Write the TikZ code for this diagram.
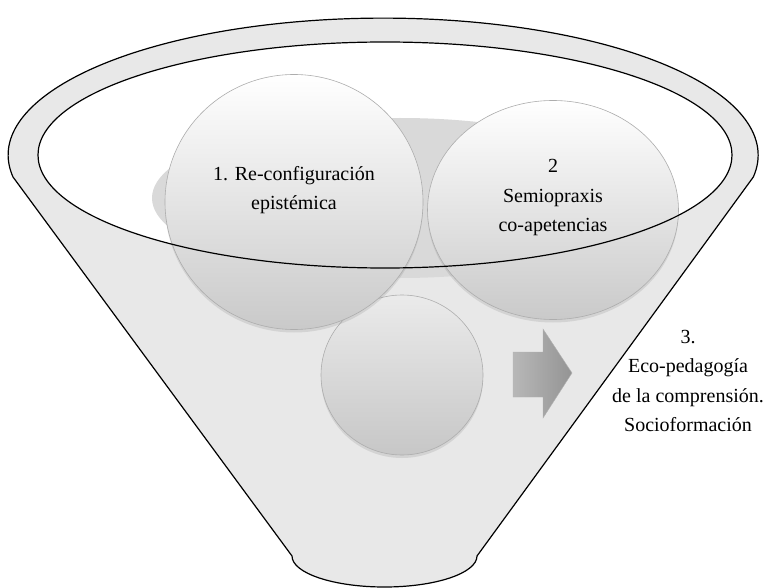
\documentclass[tikz,border=0pt]{standalone}
\usepackage{fontspec}
\setmainfont{Liberation Serif}
\usetikzlibrary{shapes,shadows,positioning}

\begin{document}
\begin{tikzpicture}
    [x=1pt,y=-1pt,
      embudo/.style={draw,line width=1.2pt,fill=black!9,line join=round},
      esfera/.style={ellipse,draw=black!32,line width=0.6pt,top color=white,bottom color=black!21,
        inner sep=0pt,drop shadow={opacity=0.2,shadow xshift=0pt,shadow yshift=-3pt}},
      texto/.style={align=center,font=\fontsize{20}{29.5}\selectfont,inner sep=0pt},
      flecha/.style={left color=black!28,right color=black!42,draw=black!30,line width=0.4pt}]
    \useasboundingbox (0,0) rectangle (770,588);
    \draw[embudo] (13,177) arc[start angle=170.8,end angle=369.2,x radius=375,y radius=137]
      -- (477,556) arc[start angle=0,end angle=180,x radius=92.5,y radius=31] -- cycle;
    \fill[white] (385,155) ellipse[x radius=347,y radius=113];
    \fill[black!15] (400,198) ellipse[x radius=248,y radius=80];
    \node[esfera,top color=black!8,bottom color=black!22,minimum width=162pt,minimum height=160pt] (s3) at (402,375) {};
    \node[esfera,minimum width=258pt,minimum height=255pt] (s1) at (294,202) {};
    \node[esfera,minimum width=251pt,minimum height=219pt] (s2) at (553,210) {};
    \draw[line width=1.2pt] (385,155) ellipse[x radius=347,y radius=113];
    \shade[flecha] (513,352) -- (543,352) -- (543,329) -- (572,373) -- (543,418) -- (543,397) -- (513,397) -- cycle;
    \node[texto] (t1) at ([yshift=12pt]s1.center) {1. Re-configuración\\epistémica};
    \node[texto] (t2) at ([yshift=12pt]s2.center) {2\\Semiopraxis\\co-apetencias};
    \node[texto] (t3) at (688,381) {3.\\Eco-pedagogía\\de la comprensión.\\Socioformación};
\end{tikzpicture}
\end{document}
